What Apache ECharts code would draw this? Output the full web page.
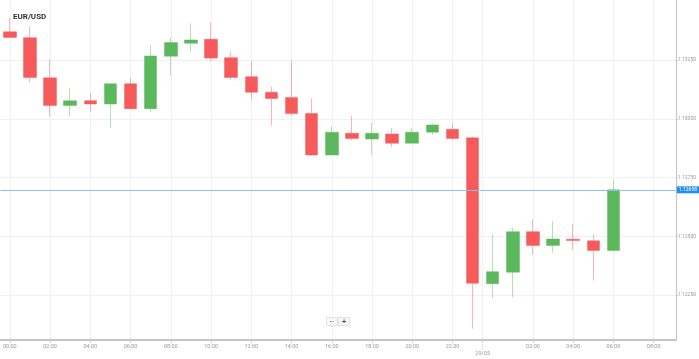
<!DOCTYPE html>
<html>
<head>
<meta charset="utf-8">
<script src="https://cdn.jsdelivr.net/npm/echarts@6/dist/echarts.min.js"></script>
<style>
  html, body { margin: 0; padding: 0; background: #fff; }
  #myChart { width: 699px; height: 359px; }
</style>
</head>
<body>
<div id="myChart"></div>
<script>
// hours from 00:00 28/05
const hours = [0, 1, 2, 3, 4, 5, 6, 7, 8, 9, 10, 11, 12, 13, 14, 15, 16, 17, 18, 19, 20, 21, 22, 23, 24, 25, 26, 27, 28, 29, 30]
const opens = [1.13370, 1.13345, 1.13174, 1.13056, 1.13077, 1.13063, 1.13149, 1.13043, 1.13266, 1.13321, 1.13338, 1.13260, 1.13179, 1.13113, 1.13091, 1.13022,
  1.12846, 1.12938, 1.12914, 1.12935, 1.12896, 1.12943, 1.12955, 1.12919, 1.12299, 1.12348, 1.12520, 1.12461, 1.12488, 1.12481, 1.12440]
const closes = [1.13346, 1.13175, 1.13056, 1.13077, 1.13063, 1.13149, 1.13043, 1.13267, 1.13324, 1.13335, 1.13258, 1.13176, 1.13113, 1.13086, 1.13022, 1.12846,
  1.12943, 1.12916, 1.12938, 1.12896, 1.12943, 1.12974, 1.12916, 1.12301, 1.12350, 1.12520, 1.12461, 1.12489, 1.12482, 1.12440, 1.12698]
const lows = [1.13343, 1.13155, 1.13009, 1.13009, 1.13030, 1.12960, 1.13040, 1.13030, 1.13182, 1.13283, 1.13243, 1.13165, 1.13077, 1.12972, 1.13012, 1.12843,
  1.12846, 1.12910, 1.12845, 1.12880, 1.12896, 1.12932, 1.12907, 1.12107, 1.12237, 1.12241, 1.12421, 1.12431, 1.12445, 1.12312, 1.12435]
const highs = [1.13429, 1.13390, 1.13253, 1.13131, 1.13108, 1.13149, 1.13172, 1.13311, 1.13345, 1.13406, 1.13410, 1.13287, 1.13246, 1.13137, 1.13249, 1.13086,
  1.12967, 1.13012, 1.12982, 1.12960, 1.12960, 1.12979, 1.12981, 1.12924, 1.12509, 1.12537, 1.12573, 1.12566, 1.12553, 1.12510, 1.12740]

const timeTicks = [0, 2, 4, 6, 8, 10, 12, 14, 16, 18, 20, 22, 26, 28, 30, 32]
const timeLabels = ['00:00', '02:00', '04:00', '06:00', '08:00', '10:00', '12:00', '14:00', '16:00', '18:00', '20:00', '22:00', '02:00', '04:00', '06:00', '08:00']
const dayBreak = 23.5
const dayLabel = '29/05'
const priceTicks = [1.1225, 1.125, 1.1275, 1.13, 1.1325]

const candles = hours.map((h, i) => [h, opens[i], closes[i], lows[i], highs[i]])
const lastClose = closes[closes.length - 1]

const xMin = -0.46
const xMax = 33.1

let myChart = echarts.init(document.getElementById('myChart'))
myChart.setOption({
  animation: false,
  title: {
    text: 'EUR/USD',
    left: 8,
    top: 8,
    textStyle: { fontSize: 8, fontWeight: 'bold', color: '#333', fontFamily: 'Roboto' }
  },
  grid: { left: 0, right: 23, top: 0, bottom: 19 },
  xAxis: [{
    type: 'value',
    min: xMin,
    max: xMax,
    axisLine: { onZero: false, lineStyle: { color: '#c4c4c4', width: 2 } },
    axisTick: {
      customValues: timeTicks.concat([dayBreak]),
      length: 3,
      lineStyle: { color: '#ccc' }
    },
    axisLabel: {
      customValues: timeTicks,
      formatter: v => timeLabels[timeTicks.indexOf(v)],
      fontSize: 5.5,
      color: '#999',
      margin: 4,
      fontFamily: 'Roboto'
    },
    splitLine: { show: true, lineStyle: { color: '#f1f1f1' } }
  }, {
    type: 'value',
    min: xMin,
    max: xMax,
    position: 'bottom',
    axisLine: { show: false, onZero: false },
    axisTick: {
      customValues: [dayBreak],
      length: 9,
      lineStyle: { color: '#ccc', type: 'dotted' }
    },
    axisLabel: {
      customValues: [dayBreak],
      formatter: () => dayLabel,
      fontSize: 5.5,
      color: '#999',
      margin: 11,
      fontFamily: 'Roboto'
    },
    splitLine: { show: false }
  }],
  yAxis: {
    type: 'value',
    position: 'right',
    scale: true,
    min: 1.120595,
    max: 1.13505,
    axisLine: { show: true, onZero: false, lineStyle: { color: '#c4c4c4', width: 1 } },
    axisTick: { show: true, customValues: priceTicks, length: 2, lineStyle: { color: '#bbb' } },
    axisLabel: {
      customValues: priceTicks,
      formatter: v => v.toFixed(5),
      fontSize: 5,
      color: '#999',
      margin: 2,
      fontFamily: 'Roboto'
    },
    splitLine: { show: true, lineStyle: { color: '#f1f1f1' } }
  },
  series: [{
    type: 'candlestick',
    data: candles,
    encode: { x: 0, y: [1, 2, 3, 4] },
    barWidth: 13,
    itemStyle: {
      color: '#5cb85c',
      color0: '#f65a5a',
      borderColor: 'rgba(92,184,92,0.45)',
      borderColor0: 'rgba(246,90,90,0.45)',
      borderWidth: 1
    },
    markLine: {
      silent: true,
      symbol: 'none',
      precision: 5,
      data: [{ yAxis: lastClose }],
      lineStyle: { color: '#8cbfe9', type: 'solid', width: 1 },
      label: {
        position: 'end',
        formatter: p => p.value.toFixed(5),
        backgroundColor: '#2590ea',
        color: '#fff',
        fontSize: 5,
        padding: [1, 2],
        distance: 1,
        fontFamily: 'Roboto'
      }
    }
  }],
  graphic: [{
    type: 'group',
    left: 326,
    top: 317,
    children: [
      { type: 'rect', shape: { x: 0, y: 0, width: 11, height: 8 }, style: { fill: '#f7f7f7', stroke: '#e3e3e3' } },
      { type: 'text', x: 5.5, y: 4, style: { text: '\u2212', fontSize: 8, fill: '#555', align: 'center', verticalAlign: 'middle' } },
      { type: 'rect', shape: { x: 12, y: 0, width: 11, height: 8 }, style: { fill: '#f7f7f7', stroke: '#e3e3e3' } },
      { type: 'text', x: 17.5, y: 4, style: { text: '+', fontSize: 8, fontWeight: 'bold', fill: '#555', align: 'center', verticalAlign: 'middle' } }
    ]
  }]
})
</script>
</body>
</html>
